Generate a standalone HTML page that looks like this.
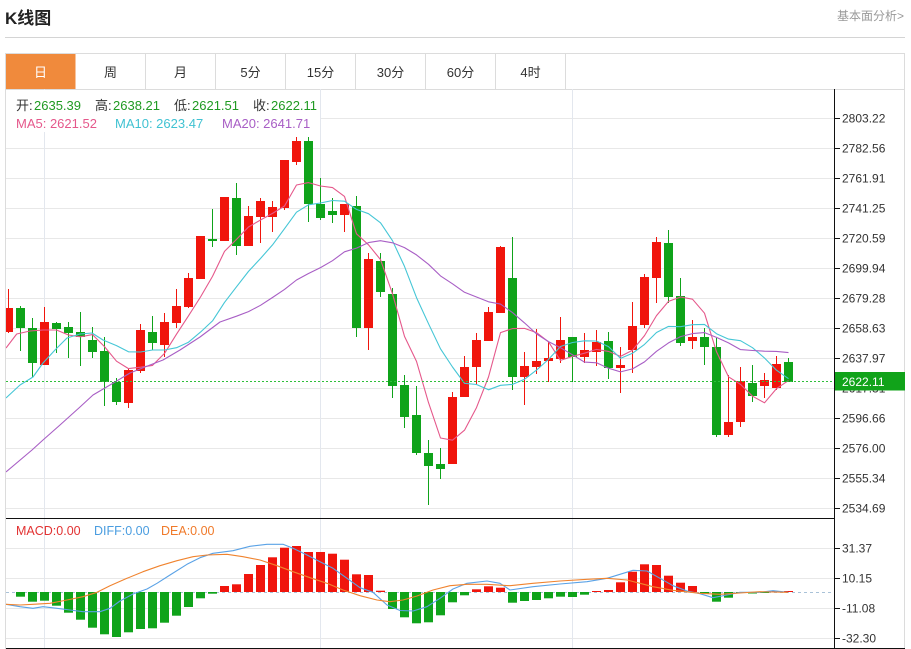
<!DOCTYPE html>
<html><head><meta charset="utf-8">
<style>
html,body{margin:0;padding:0;background:#fff;width:911px;height:649px;overflow:hidden}
svg{display:block}
text{font-family:"Liberation Sans","Noto Sans CJK SC",sans-serif}
</style></head><body>
<svg width="911" height="649" viewBox="0 0 911 649" xmlns="http://www.w3.org/2000/svg">
<defs>
<clipPath id="cm"><rect x="6" y="89" width="828" height="429"/></clipPath>
<clipPath id="cd"><rect x="6" y="519" width="828" height="129"/></clipPath>
</defs>
<rect width="911" height="649" fill="#fff"/>
<!-- header -->
<text x="5" y="24" font-size="17" font-weight="bold" fill="#222">K线图</text>
<text x="904" y="20" font-size="12" fill="#999" text-anchor="end">基本面分析&gt;</text>
<line x1="5" y1="37.5" x2="905" y2="37.5" stroke="#d4d4d4"/>
<!-- panel borders -->
<rect x="5.5" y="53.5" width="899" height="36" fill="#fff" stroke="#dcdcdc"/>
<line x1="5.5" y1="53.5" x2="5.5" y2="649" stroke="#dcdcdc"/>
<line x1="904.5" y1="53.5" x2="904.5" y2="649" stroke="#dcdcdc"/>
<rect x="6" y="54" width="69.5" height="35" fill="#f08a3c"/>
<g stroke="#dcdcdc">
<line x1="145.5" y1="54" x2="145.5" y2="89"/><line x1="215.5" y1="54" x2="215.5" y2="89"/>
<line x1="285.5" y1="54" x2="285.5" y2="89"/><line x1="355.5" y1="54" x2="355.5" y2="89"/>
<line x1="425.5" y1="54" x2="425.5" y2="89"/><line x1="495.5" y1="54" x2="495.5" y2="89"/>
<line x1="565.5" y1="54" x2="565.5" y2="89"/>
</g>
<g font-size="13" fill="#333" text-anchor="middle">
<text x="40.5" y="77" fill="#fff">日</text>
<text x="110.5" y="77">周</text>
<text x="180.5" y="77">月</text>
<text x="250.5" y="77">5分</text>
<text x="320.5" y="77">15分</text>
<text x="390.5" y="77">30分</text>
<text x="460.5" y="77">60分</text>
<text x="530.5" y="77">4时</text>
</g>
<!-- grid -->
<g stroke="#e8e8e8">
<line x1="6" y1="118.5" x2="834" y2="118.5"/><line x1="6" y1="148.5" x2="834" y2="148.5"/>
<line x1="6" y1="178.5" x2="834" y2="178.5"/><line x1="6" y1="208.5" x2="834" y2="208.5"/>
<line x1="6" y1="238.5" x2="834" y2="238.5"/><line x1="6" y1="268.5" x2="834" y2="268.5"/>
<line x1="6" y1="298.5" x2="834" y2="298.5"/><line x1="6" y1="328.5" x2="834" y2="328.5"/>
<line x1="6" y1="358.5" x2="834" y2="358.5"/><line x1="6" y1="388.5" x2="834" y2="388.5"/>
<line x1="6" y1="418.5" x2="834" y2="418.5"/><line x1="6" y1="448.5" x2="834" y2="448.5"/>
<line x1="6" y1="478.5" x2="834" y2="478.5"/><line x1="6" y1="508.5" x2="834" y2="508.5"/>
<line x1="6" y1="548.5" x2="834" y2="548.5"/><line x1="6" y1="578.5" x2="834" y2="578.5"/>
<line x1="6" y1="608.5" x2="834" y2="608.5"/><line x1="6" y1="638.5" x2="834" y2="638.5"/>
</g>
<g stroke="#e3e7ee">
<line x1="44.5" y1="89" x2="44.5" y2="648"/>
<line x1="320.5" y1="89" x2="320.5" y2="648"/>
<line x1="572.5" y1="89" x2="572.5" y2="648"/>
</g>
<!-- legend background -->
<rect x="6" y="90" width="314" height="42" fill="#fff"/>
<!-- candles -->
<g clip-path="url(#cm)">
<g fill="#f0150c">
<rect x="8" y="289" width="1" height="44"/><rect x="4" y="308" width="9" height="24"/>
<rect x="44" y="307" width="1" height="58"/><rect x="40" y="322" width="9" height="43"/>
<rect x="128" y="368" width="1" height="40"/><rect x="124" y="370" width="9" height="33"/>
<rect x="140" y="324" width="1" height="49"/><rect x="136" y="330" width="9" height="41"/>
<rect x="164" y="313" width="1" height="44"/><rect x="160" y="322" width="9" height="23"/>
<rect x="176" y="289" width="1" height="39"/><rect x="172" y="306" width="9" height="17"/>
<rect x="188" y="273" width="1" height="35"/><rect x="184" y="278" width="9" height="29"/>
<rect x="200" y="236" width="1" height="43"/><rect x="196" y="236" width="9" height="43"/>
<rect x="224" y="197" width="1" height="44"/><rect x="220" y="197" width="9" height="44"/>
<rect x="248" y="206" width="1" height="40"/><rect x="244" y="216" width="9" height="30"/>
<rect x="260" y="198" width="1" height="45"/><rect x="256" y="201" width="9" height="16"/>
<rect x="272" y="201" width="1" height="31"/><rect x="268" y="207" width="9" height="10"/>
<rect x="284" y="160" width="1" height="50"/><rect x="280" y="160" width="9" height="48"/>
<rect x="296" y="137" width="1" height="28"/><rect x="292" y="141" width="9" height="21"/>
<rect x="344" y="204" width="1" height="28"/><rect x="340" y="204" width="9" height="11"/>
<rect x="368" y="253" width="1" height="97"/><rect x="364" y="259" width="9" height="69"/>
<rect x="452" y="392" width="1" height="72"/><rect x="448" y="397" width="9" height="67"/>
<rect x="464" y="356" width="1" height="41"/><rect x="460" y="367" width="9" height="30"/>
<rect x="476" y="333" width="1" height="52"/><rect x="472" y="340" width="9" height="27"/>
<rect x="488" y="307" width="1" height="34"/><rect x="484" y="312" width="9" height="29"/>
<rect x="500" y="246" width="1" height="67"/><rect x="496" y="247" width="9" height="66"/>
<rect x="524" y="352" width="1" height="53"/><rect x="520" y="366" width="9" height="11"/>
<rect x="536" y="329" width="1" height="45"/><rect x="532" y="361" width="9" height="6"/>
<rect x="548" y="342" width="1" height="40"/><rect x="544" y="358" width="9" height="3"/>
<rect x="560" y="317" width="1" height="46"/><rect x="556" y="340" width="9" height="19"/>
<rect x="584" y="333" width="1" height="30"/><rect x="580" y="350" width="9" height="7"/>
<rect x="596" y="330" width="1" height="36"/><rect x="592" y="342" width="9" height="10"/>
<rect x="620" y="347" width="1" height="46"/><rect x="616" y="365" width="9" height="3"/>
<rect x="632" y="302" width="1" height="71"/><rect x="628" y="326" width="9" height="24"/>
<rect x="644" y="274" width="1" height="54"/><rect x="640" y="277" width="9" height="48"/>
<rect x="656" y="237" width="1" height="66"/><rect x="652" y="242" width="9" height="36"/>
<rect x="692" y="320" width="1" height="29"/><rect x="688" y="337" width="9" height="4"/>
<rect x="728" y="375" width="1" height="62"/><rect x="724" y="422" width="9" height="13"/>
<rect x="740" y="367" width="1" height="60"/><rect x="736" y="381" width="9" height="41"/>
<rect x="764" y="373" width="1" height="25"/><rect x="760" y="380" width="9" height="6"/>
<rect x="776" y="356" width="1" height="34"/><rect x="772" y="364" width="9" height="24"/>
</g>
<g fill="#0fa31a">
<rect x="20" y="306" width="1" height="45"/><rect x="16" y="308" width="9" height="20"/>
<rect x="32" y="318" width="1" height="59"/><rect x="28" y="328" width="9" height="35"/>
<rect x="56" y="322" width="1" height="31"/><rect x="52" y="323" width="9" height="6"/>
<rect x="68" y="322" width="1" height="36"/><rect x="64" y="327" width="9" height="6"/>
<rect x="80" y="312" width="1" height="54"/><rect x="76" y="332" width="9" height="5"/>
<rect x="92" y="327" width="1" height="31"/><rect x="88" y="340" width="9" height="12"/>
<rect x="104" y="337" width="1" height="69"/><rect x="100" y="351" width="9" height="31"/>
<rect x="116" y="378" width="1" height="27"/><rect x="112" y="382" width="9" height="20"/>
<rect x="152" y="316" width="1" height="34"/><rect x="148" y="332" width="9" height="11"/>
<rect x="212" y="209" width="1" height="38"/><rect x="208" y="239" width="9" height="2"/>
<rect x="236" y="183" width="1" height="72"/><rect x="232" y="198" width="9" height="48"/>
<rect x="308" y="137" width="1" height="85"/><rect x="304" y="141" width="9" height="63"/>
<rect x="320" y="178" width="1" height="42"/><rect x="316" y="204" width="9" height="14"/>
<rect x="332" y="198" width="1" height="25"/><rect x="328" y="211" width="9" height="4"/>
<rect x="356" y="196" width="1" height="141"/><rect x="352" y="206" width="9" height="122"/>
<rect x="380" y="253" width="1" height="44"/><rect x="376" y="261" width="9" height="31"/>
<rect x="392" y="288" width="1" height="110"/><rect x="388" y="294" width="9" height="92"/>
<rect x="404" y="375" width="1" height="53"/><rect x="400" y="385" width="9" height="32"/>
<rect x="416" y="386" width="1" height="69"/><rect x="412" y="415" width="9" height="38"/>
<rect x="428" y="440" width="1" height="65"/><rect x="424" y="453" width="9" height="13"/>
<rect x="440" y="448" width="1" height="31"/><rect x="436" y="464" width="9" height="5"/>
<rect x="512" y="237" width="1" height="153"/><rect x="508" y="278" width="9" height="99"/>
<rect x="572" y="337" width="1" height="45"/><rect x="568" y="337" width="9" height="20"/>
<rect x="608" y="332" width="1" height="47"/><rect x="604" y="341" width="9" height="27"/>
<rect x="668" y="230" width="1" height="73"/><rect x="664" y="243" width="9" height="54"/>
<rect x="680" y="278" width="1" height="68"/><rect x="676" y="296" width="9" height="47"/>
<rect x="704" y="328" width="1" height="37"/><rect x="700" y="337" width="9" height="10"/>
<rect x="716" y="338" width="1" height="99"/><rect x="712" y="347" width="9" height="88"/>
<rect x="752" y="365" width="1" height="37"/><rect x="748" y="383" width="9" height="13"/>
<rect x="788" y="358" width="1" height="24"/><rect x="784" y="362" width="9" height="20"/>
</g>
<!-- MA lines -->
<g fill="none" stroke-width="1.1" stroke-linejoin="round">
<polyline stroke="#e5588b" points="6,348 16.7,334 30,331 43,330 56.5,330 68.5,335 80.5,336.8 92.5,334.6 104.5,346.6 116.5,361.2 128.5,368.6 140.5,367.2 152.5,365.4 164.5,353.4 176.5,334.2 188.5,315.8 200.5,297 212.5,276.4 224.5,251.4 236.5,239.4 248.5,227 260.5,220 272.5,213.4 284.5,206 296.5,185 308.5,182.6 320.5,186 332.5,187.6 344.5,196.4 356.5,233.8 368.5,244.8 380.5,259.6 392.5,293.8 404.5,336.4 416.5,361.4 428.5,402.6 440.5,438 452.5,440.2 464.5,430.2 476.5,407.6 488.5,377 500.5,332.6 512.5,328.6 524.5,328.4 536.5,332.6 548.5,341.8 560.5,360.4 572.5,356.4 584.5,353.2 596.5,349.4 608.5,351.4 620.5,356.4 632.5,350.2 644.5,335.6 656.5,315.6 668.5,301.4 680.5,297 692.5,299.2 704.5,313.2 716.5,351.8 728.5,376.8 740.5,384.4 752.5,396.2 764.5,402.8 776.5,388.6 788.5,380.6"/>
<polyline stroke="#45c6d6" points="6,398 20,385 33,377 43,363 55,350 67,338 80,334 92,333 103,340 116.5,345.6 128.5,351.8 140.5,352 152.5,350 164.5,350 176.5,347.7 188.5,342.2 200.5,332.1 212.5,320.9 224.5,302.4 236.5,286.8 248.5,271.4 260.5,258.5 272.5,244.9 284.5,228.7 296.5,212.2 308.5,204.8 320.5,203 332.5,200.5 344.5,201.2 356.5,209.4 368.5,213.7 380.5,222.8 392.5,240.7 404.5,266.4 416.5,297.6 428.5,323.7 440.5,348.8 452.5,367 464.5,383.3 476.5,384.5 488.5,389.8 500.5,385.3 512.5,384.4 524.5,379.3 536.5,370.1 548.5,359.4 560.5,346.5 572.5,342.5 584.5,340.8 596.5,341 608.5,346.6 620.5,358.4 632.5,353.3 644.5,344.4 656.5,332.5 668.5,326.4 680.5,326.7 692.5,324.7 704.5,324.4 716.5,333.7 728.5,339.1 740.5,340.7 752.5,347.7 764.5,358 776.5,370.2 788.5,378.7"/>
<polyline stroke="#a85ec5" points="6,472 32,450 43,440 60,425 80,407 93,395 110,385 130,373 150,365 163,360 180,350 200,337 220,322 236.5,316.2 248.5,311.6 260.5,305.3 272.5,297.5 284.5,289.4 296.5,280 308.5,273.5 320.5,267.6 332.5,260.7 344.5,251.8 356.5,248.1 368.5,242.6 380.5,240.7 392.5,242.8 404.5,247.6 416.5,254.9 428.5,264.3 440.5,275.9 452.5,283.8 464.5,292.3 476.5,297 488.5,301.8 500.5,304.1 512.5,312.6 524.5,322.9 536.5,333.9 548.5,341.6 560.5,347.7 572.5,354.8 584.5,362.1 596.5,362.8 608.5,368.2 620.5,371.9 632.5,368.9 644.5,361.9 656.5,351.3 668.5,342.9 680.5,336.6 692.5,333.6 704.5,332.6 716.5,337.4 728.5,342.9 740.5,349.6 752.5,350.5 764.5,351.2 776.5,351.4 788.5,352.6"/>
</g>
<line x1="6" y1="381.5" x2="834" y2="381.5" stroke="#2fbf3a" stroke-dasharray="2,2"/>
</g>
<!-- legend -->
<g font-size="13">
<text x="16" y="110" fill="#333">开:</text><text x="34" y="110" fill="#1f9a22">2635.39</text>
<text x="95" y="110" fill="#333">高:</text><text x="113" y="110" fill="#1f9a22">2638.21</text>
<text x="174" y="110" fill="#333">低:</text><text x="192" y="110" fill="#1f9a22">2621.51</text>
<text x="253" y="110" fill="#333">收:</text><text x="271" y="110" fill="#1f9a22">2622.11</text>
<text x="16" y="128" fill="#e5588b">MA5: 2621.52</text>
<text x="115" y="128" fill="#40c2d2">MA10: 2623.47</text>
<text x="222" y="128" fill="#a85ec5">MA20: 2641.71</text>
</g>
<!-- MACD -->
<line x1="6" y1="592.5" x2="834" y2="592.5" stroke="#a9c2d8" stroke-dasharray="3,3"/>
<g clip-path="url(#cd)">
<g fill="#0fa31a">
<rect x="16" y="592" width="9" height="4.7"/><rect x="28" y="592" width="9" height="9.7"/>
<rect x="40" y="592" width="9" height="8.7"/><rect x="52" y="592" width="9" height="13.7"/>
<rect x="64" y="592" width="9" height="20.7"/><rect x="76" y="592" width="9" height="27.7"/>
<rect x="88" y="592" width="9" height="35.7"/><rect x="100" y="592" width="9" height="42.3"/>
<rect x="112" y="592" width="9" height="45"/><rect x="124" y="592" width="9" height="40.3"/>
<rect x="136" y="592" width="9" height="37"/><rect x="148" y="592" width="9" height="36.3"/>
<rect x="160" y="592" width="9" height="30.7"/><rect x="172" y="592" width="9" height="23.7"/>
<rect x="184" y="592" width="9" height="15"/><rect x="196" y="592" width="9" height="6.3"/>
<rect x="208" y="592" width="9" height="1.7"/>
<rect x="388" y="592" width="9" height="17"/><rect x="400" y="592" width="9" height="25.3"/>
<rect x="412" y="592" width="9" height="31.3"/><rect x="424" y="592" width="9" height="30.3"/>
<rect x="436" y="592" width="9" height="23.3"/><rect x="448" y="592" width="9" height="10.3"/>
<rect x="460" y="592" width="9" height="3.3"/>
<rect x="508" y="592" width="9" height="10.7"/><rect x="520" y="592" width="9" height="9"/>
<rect x="532" y="592" width="9" height="8"/><rect x="544" y="592" width="9" height="6.3"/>
<rect x="556" y="592" width="9" height="4.7"/><rect x="568" y="592" width="9" height="5"/>
<rect x="580" y="592" width="9" height="2.7"/>
<rect x="700" y="592" width="9" height="1.7"/><rect x="712" y="592" width="9" height="9.7"/>
<rect x="724" y="592" width="9" height="5.7"/><rect x="736" y="592" width="9" height="1"/>
<rect x="748" y="592" width="9" height="1.5"/><rect x="760" y="592" width="9" height="1"/>
</g>
<g fill="#f0150c">
<rect x="220" y="586" width="9" height="6"/><rect x="232" y="584.3" width="9" height="7.7"/>
<rect x="244" y="574" width="9" height="18"/><rect x="256" y="565" width="9" height="27"/>
<rect x="268" y="557.3" width="9" height="34.7"/><rect x="280" y="547.7" width="9" height="44.3"/>
<rect x="292" y="546" width="9" height="46"/><rect x="304" y="552" width="9" height="40"/>
<rect x="316" y="552" width="9" height="40"/><rect x="328" y="553.7" width="9" height="38.3"/>
<rect x="340" y="559.7" width="9" height="32.3"/><rect x="352" y="574.3" width="9" height="17.7"/>
<rect x="364" y="575" width="9" height="17"/><rect x="376" y="590.7" width="9" height="1.3"/>
<rect x="472" y="589.3" width="9" height="2.7"/><rect x="484" y="586.3" width="9" height="5.7"/>
<rect x="496" y="587.7" width="9" height="4.3"/>
<rect x="592" y="591" width="9" height="1"/><rect x="604" y="590" width="9" height="2"/>
<rect x="616" y="582.3" width="9" height="9.7"/><rect x="628" y="571.7" width="9" height="20.3"/>
<rect x="640" y="564.3" width="9" height="27.7"/><rect x="652" y="565" width="9" height="27"/>
<rect x="664" y="575.7" width="9" height="16.3"/><rect x="676" y="582.7" width="9" height="9.3"/>
<rect x="688" y="586" width="9" height="6"/>
<rect x="772" y="591" width="9" height="1"/><rect x="784" y="591" width="9" height="1"/>
</g>
<g fill="none" stroke-width="1.1" stroke-linejoin="round">
<polyline stroke="#5aa2e6" points="6,604.3 20,606.7 33,608.3 43,606.7 57,608.3 70,610 83,611.7 100,611.7 110,608.3 120,601 133,594 147,589 157,583.3 170,575 187,564.3 200,557.7 213,553.3 233,550.7 250,546.3 267,544.3 283,544.3 293,548.3 307,555 320,561.7 333,568.3 347,578.3 360,587.7 373,592.3 387,605 400,610.5 413,611 427,606.7 440,598.3 453,589 467,583.3 487,581 500,583.3 510,590 533,586.7 560,584 587,581.7 607,578.3 620,574.3 633,570.3 647,571 660,578.3 673,585.7 687,591 700,593.7 713,597.7 727,595 740,592.3 760,592.3 773,590.7 788,592.3"/>
<polyline stroke="#f0832e" points="6,604.3 20,605 33,604.3 50,603.3 67,600 83,596.7 97,592.3 110,585.7 127,578.3 143,571.7 160,565.7 177,560.7 193,556.7 207,555 227,554.3 243,556.7 260,560 277,565.7 293,571.7 310,577.7 327,583.3 343,590 360,595.7 377,600 390,601.7 403,600 417,596 433,590 450,585.7 467,584.3 487,584.3 510,585.7 533,583.3 560,581 587,579.3 607,578.3 627,580 640,583.3 653,586.7 673,590.3 700,593.3 720,594.3 740,593 760,591.7 788,592.3"/>
</g>
</g>
<g font-size="12.5">
<text x="16" y="535" fill="#e23232">MACD:0.00</text>
<text x="94" y="535" fill="#4a9de0">DIFF:0.00</text>
<text x="161" y="535" fill="#f07a2a">DEA:0.00</text>
</g>
<!-- axes -->
<line x1="6" y1="518.5" x2="834" y2="518.5" stroke="#111"/>
<line x1="6" y1="648.5" x2="905" y2="648.5" stroke="#111"/>
<line x1="834.5" y1="89" x2="834.5" y2="649" stroke="#111"/>
<g stroke="#111">
<line x1="835" y1="118.5" x2="840" y2="118.5"/><line x1="835" y1="148.5" x2="840" y2="148.5"/>
<line x1="835" y1="178.5" x2="840" y2="178.5"/><line x1="835" y1="208.5" x2="840" y2="208.5"/>
<line x1="835" y1="238.5" x2="840" y2="238.5"/><line x1="835" y1="268.5" x2="840" y2="268.5"/>
<line x1="835" y1="298.5" x2="840" y2="298.5"/><line x1="835" y1="328.5" x2="840" y2="328.5"/>
<line x1="835" y1="358.5" x2="840" y2="358.5"/><line x1="835" y1="388.5" x2="840" y2="388.5"/>
<line x1="835" y1="418.5" x2="840" y2="418.5"/><line x1="835" y1="448.5" x2="840" y2="448.5"/>
<line x1="835" y1="478.5" x2="840" y2="478.5"/><line x1="835" y1="508.5" x2="840" y2="508.5"/>
<line x1="835" y1="548.5" x2="840" y2="548.5"/><line x1="835" y1="578.5" x2="840" y2="578.5"/>
<line x1="835" y1="608.5" x2="840" y2="608.5"/><line x1="835" y1="638.5" x2="840" y2="638.5"/>
</g>
<g font-size="12" fill="#333">
<text x="842" y="122.5">2803.22</text>
<text x="842" y="152.5">2782.56</text>
<text x="842" y="182.5">2761.91</text>
<text x="842" y="212.5">2741.25</text>
<text x="842" y="242.5">2720.59</text>
<text x="842" y="272.5">2699.94</text>
<text x="842" y="302.5">2679.28</text>
<text x="842" y="332.5">2658.63</text>
<text x="842" y="362.5">2637.97</text>
<text x="842" y="392.5">2617.31</text>
<text x="842" y="422.5">2596.66</text>
<text x="842" y="452.5">2576.00</text>
<text x="842" y="482.5">2555.34</text>
<text x="842" y="512.5">2534.69</text>
<text x="842" y="552.5">31.37</text>
<text x="842" y="582.5">10.15</text>
<text x="842" y="612.5">-11.08</text>
<text x="842" y="642.5">-32.30</text>
</g>
<rect x="835" y="372" width="70" height="18.5" fill="#11a31a"/>
<text x="842" y="386" font-size="12" fill="#fff">2622.11</text>
</svg>
</body></html>
